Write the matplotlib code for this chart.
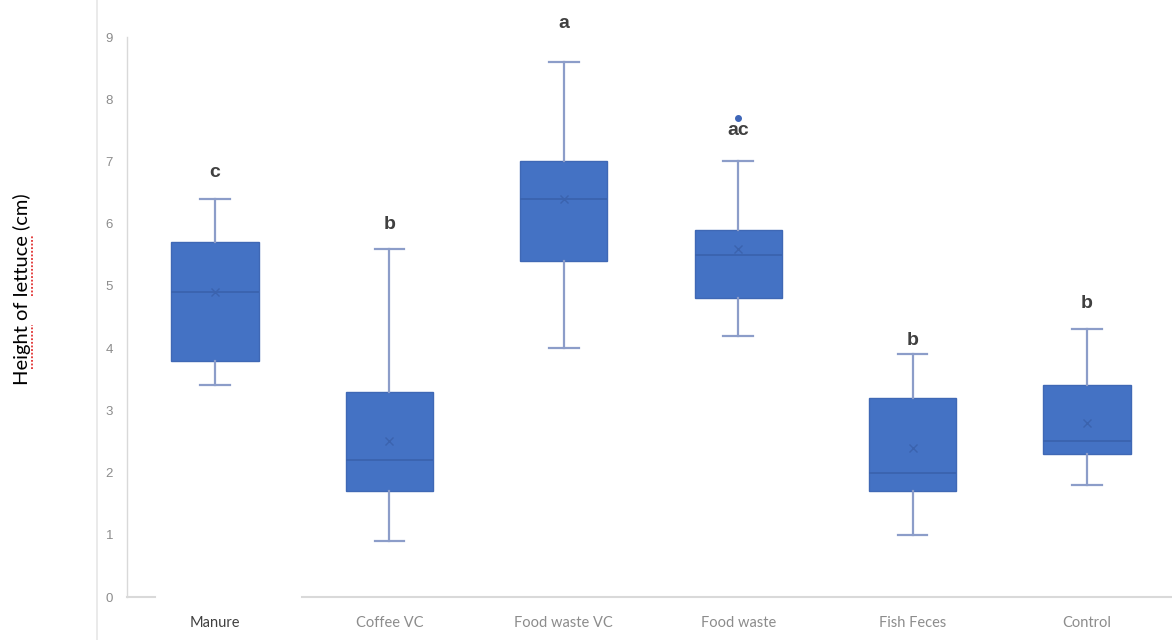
import matplotlib
matplotlib.use("Agg")
import matplotlib.pyplot as plt
from matplotlib.lines import Line2D

# values (cm)
groups = ["Manure", "Coffee VC", "Food waste VC", "Food waste", "Fish Feces", "Control"]
whisker_low = [3.4, 0.9, 4.0, 4.2, 1.0, 1.8]
q1 = [3.8, 1.7, 5.4, 4.8, 1.7, 2.3]
median = [4.9, 2.2, 6.4, 5.5, 2.0, 2.5]
mean = [4.9, 2.5, 6.4, 5.6, 2.4, 2.8]
q3 = [5.7, 3.3, 7.0, 5.9, 3.2, 3.4]
whisker_high = [6.4, 5.6, 8.6, 7.0, 3.9, 4.3]
outliers = [[], [], [], [7.7], [], []]
letters = ["c", "b", "a", "ac", "b", "b"]
letter_y = [6.83, 5.98, 9.21, 7.49, 4.13, 4.71]
yticks = list(range(0, 10))

BOX = "#4472C4"
WHISK = "#8C9DC9"
GRID = "#D9D9D9"
TICK = "#8C8C8C"

fig = plt.figure(figsize=(11.72, 6.4), dpi=100)
W, H = 1172, 640
ax = fig.add_axes([127 / W, (H - 597) / H, (W - 127) / W, 560 / H])

stats = []
for i, g in enumerate(groups):
    stats.append(dict(label=g, whislo=whisker_low[i], q1=q1[i], med=median[i],
                      mean=mean[i], q3=q3[i], whishi=whisker_high[i],
                      fliers=outliers[i]))

ax.bxp(stats, positions=range(len(groups)), widths=0.5, capwidths=0.17,
       patch_artist=True, showmeans=True,
       boxprops=dict(facecolor=BOX, edgecolor="#3F68B5", linewidth=1),
       medianprops=dict(color="#3A62AD", linewidth=1.2),
       whiskerprops=dict(color=WHISK, linewidth=1.6),
       capprops=dict(color=WHISK, linewidth=1.6),
       meanprops=dict(marker="x", markersize=6, markeredgecolor="#3B63AE",
                      markeredgewidth=1),
       flierprops=dict(marker="o", markersize=4, markerfacecolor="#3E66B8",
                       markeredgecolor="#3E66B8"))

for i, lab in enumerate(letters):
    ax.text(i, letter_y[i], lab, ha="center", va="center", fontsize=14,
            fontweight="bold", color="#404040", family="Liberation Sans",
            clip_on=False)

ax.set_xlim(-0.505, 5.487)
ax.set_ylim(0, 9)
ax.set_yticks(yticks)
ax.set_yticklabels([str(t) for t in yticks], color=TICK, fontsize=9.5,
                   family="Liberation Sans")
ax.set_xticks(range(len(groups)))
ax.set_xticklabels(groups, fontsize=10.5, color=TICK, family="Lato")
ax.get_xticklabels()[0].set_color("#404040")
ax.tick_params(axis="y", length=0, pad=10)
ax.tick_params(axis="x", length=0, pad=14)

for s in ["top", "right", "bottom"]:
    ax.spines[s].set_visible(False)
ax.spines["left"].set_color(GRID)
ax.spines["left"].set_linewidth(1)

# x axis line, broken where the Manure panel was pasted in
ax.axhline(0, xmin=0, xmax=28 / 1045, color=GRID, lw=1.5, clip_on=False)
ax.axhline(0, xmin=175 / 1045, xmax=1, color=GRID, lw=1.5, clip_on=False)

# outer frame line of the screenshot
fig.add_artist(Line2D([97 / W, 97 / W], [0, 1], color="#E6E6E6", lw=1.2))

ylabel = "Height of lettuce (cm)"
lab_font = dict(fontsize=14.5, family="Lato")
lab_cy = 289  # px from top
fig.text(22 / W, 1 - lab_cy / H, ylabel, rotation=90, ha="center",
         va="center", color="#000000", **lab_font)

# spell-check squiggles under "Height" and "lettuce", measured off the text
r = fig.canvas.get_renderer()


def text_len(s):
    t = fig.text(0, 0, s, **lab_font)
    w = t.get_window_extent(r).width
    t.remove()
    return w


start = lab_cy + text_len(ylabel) / 2
spans = [(text_len("H"), text_len("Height")),
         (text_len("Height of "), text_len("Height of lettuce"))]
for a, b in spans:
    fig.add_artist(Line2D([32 / W, 32 / W], [1 - (start - a) / H, 1 - (start - b) / H],
                          color="#E03030", lw=1.3, linestyle=(0, (1, 1))))

fig.savefig("out.png", dpi=100)
